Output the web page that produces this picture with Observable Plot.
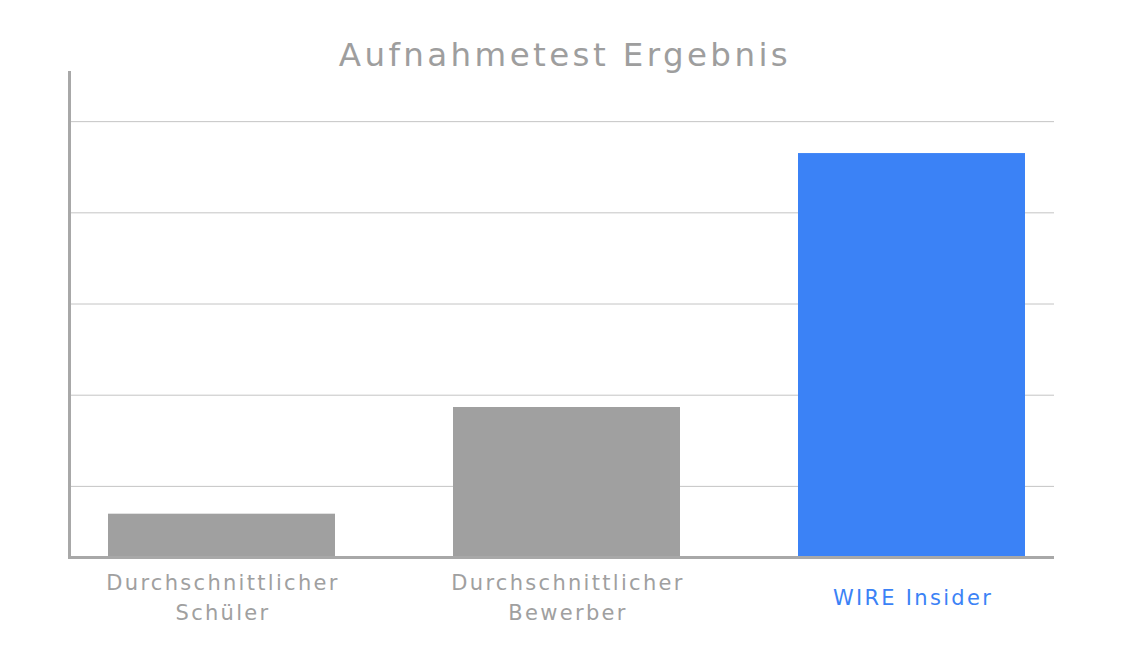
<!DOCTYPE html>
<html>
<head>
<meta charset="utf-8">
<script src="https://cdn.jsdelivr.net/npm/d3@7"></script>
<script src="https://cdn.jsdelivr.net/npm/@observablehq/plot@0.6"></script>
<style>
  html, body { margin: 0; padding: 0; background: #fff; }
  #wrap { position: relative; width: 1122px; height: 672px; }
  #title { position: absolute; left: 0; top: 38px; width: 1130px; text-align: center;
           font-family: "DejaVu Sans", sans-serif; font-size: 32.5px; line-height: 34px;
           letter-spacing: 3.4px; color: #9e9e9e; }
  #chart { position: absolute; left: 0; top: 71px; }
</style>
</head>
<body>
<div id="wrap">
  <div id="title">Aufnahmetest Ergebnis</div>
  <div id="chart"></div>
</div>
<script>
const categories = ["Durchschnittlicher Schüler", "Durchschnittlicher Bewerber", "WIRE Insider"];
const tickLabels = ["Durchschnittlicher\nSchüler", "Durchschnittlicher\nBewerber", "WIRE Insider"];
const values = [13.9, 37.3, 93.0];
const gridTicks = [20, 40, 60, 80, 100];
const yDomain = [4.4, 111];
const highlight = "WIRE Insider";

const GRAY = "#a0a0a0";
const BLUE = "#3b82f6";

const data = categories.map((c, i) => ({category: c, label: tickLabels[i], value: values[i]}));
const colorOf = d => d.category === highlight ? BLUE : GRAY;

const chart = Plot.plot({
  width: 1122,
  height: 601,
  marginTop: 0,
  marginBottom: 115,
  marginLeft: 69,
  marginRight: 68,
  style: {fontFamily: "DejaVu Sans, sans-serif", background: "transparent", letterSpacing: "2.3px"},
  x: {domain: categories, range: [108, 1026], paddingInner: 0.342, paddingOuter: 0, axis: null},
  y: {domain: yDomain, axis: null},
  color: {type: "identity"},
  marks: [
    Plot.ruleY(gridTicks, {stroke: "#c4c4c4", strokeWidth: 1}),
    Plot.barY(data, {x: "category", y: "value", fill: colorOf, clip: true}),
    Plot.ruleY([yDomain[0]], {stroke: "#a8a8a8", strokeWidth: 3}),
    Plot.frame({anchor: "left", stroke: "#a8a8a8", strokeWidth: 3, strokeOpacity: 1}),
    Plot.text(data, {
      x: "category", text: "label", fill: colorOf,
      frameAnchor: "bottom", lineAnchor: "middle", dy: 38, dx: 1,
      fontSize: 21, lineHeight: 1.42
    })
  ]
});
document.getElementById("chart").appendChild(chart);
</script>
</body>
</html>
